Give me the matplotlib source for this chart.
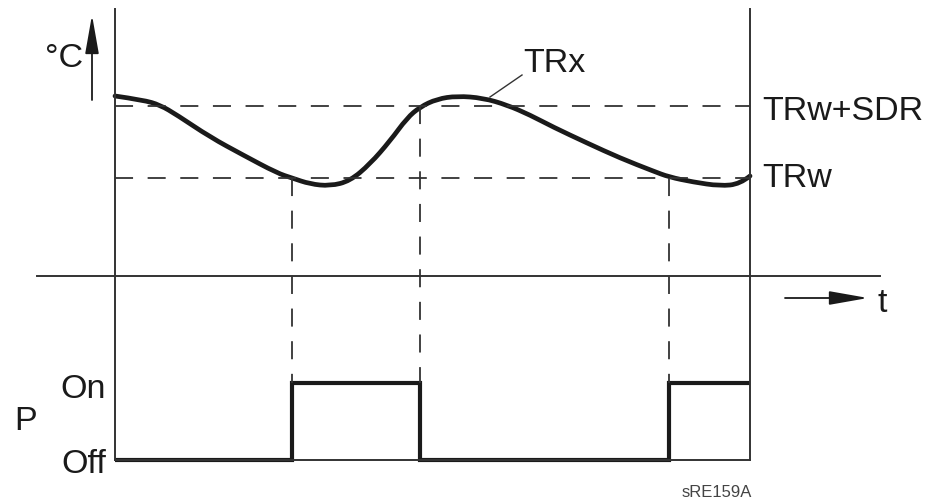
import matplotlib
matplotlib.use('Agg')
import matplotlib.pyplot as plt
from matplotlib.path import Path
from matplotlib.patches import PathPatch

plt.rcParams['font.family'] = ['Liberation Sans', 'DejaVu Sans']
plt.rcParams['lines.scale_dashes'] = False

# temperature curve TRx (x = time, y = screen height)
curve_x = [115, 143, 160, 177, 210, 243, 277, 292, 310, 330, 350, 370, 390, 407,
           420, 437, 457, 483, 507, 530, 553, 587, 620, 653, 669, 693, 720, 740, 750]
curve_y = [96, 100, 105, 115, 137, 155, 173, 178, 184, 186, 181, 164, 141, 118,
           107, 99, 96, 98, 105, 115, 127, 143, 158, 171, 177, 182, 186, 184, 176]

# thresholds
trw_sdr = 106
trw = 178

# switching instants and relay state P
switch_t = [115, 292, 420, 669, 750]
p_state = [0, 1, 0, 1]
off_y = 460
on_y = 383

t_start, t_end = 115, 750
top_y = 9
axis_y = 276

ink = '#1a1a1a'
grey = '#333333'

fig = plt.figure(figsize=(9.41, 4.99), dpi=100)
ax = fig.add_axes([0, 0, 1, 1])
ax.set_xlim(0, 941)
ax.set_ylim(499, 0)
ax.axis('off')

# frame lines
ax.plot([t_start, t_start], [top_y, off_y], color=grey, lw=1.4)
ax.plot([t_end, t_end], [top_y, off_y], color=grey, lw=1.4)
ax.plot([37, 880], [axis_y, axis_y], color=grey, lw=1.4)
ax.plot([t_start, t_end], [off_y, off_y], color=grey, lw=1.4)

# dashed threshold lines
dash = (0, (13, 10.5))
ax.plot([t_start, t_end], [trw_sdr, trw_sdr], color=grey, lw=1.3, ls=dash)
ax.plot([t_start, t_end], [trw, trw], color=grey, lw=1.3, ls=dash)

# dashed verticals at the switching instants
ax.plot([switch_t[1], switch_t[1]], [trw, on_y], color=grey, lw=1.3, ls=dash)
ax.plot([switch_t[2], switch_t[2]], [trw_sdr, on_y], color=grey, lw=1.3, ls=dash)
ax.plot([switch_t[3], switch_t[3]], [trw, on_y], color=grey, lw=1.3, ls=dash)

# TRx curve, drawn as a chain of quadratic beziers through the read points
pts = list(zip(curve_x, curve_y))
verts = [pts[0]]
codes = [Path.MOVETO]
for i in range(1, len(pts) - 1):
    nxt = ((pts[i][0] + pts[i + 1][0]) / 2, (pts[i][1] + pts[i + 1][1]) / 2)
    if i == len(pts) - 2:
        nxt = pts[-1]
    verts += [pts[i], nxt]
    codes += [Path.CURVE3, Path.CURVE3]
ax.add_patch(PathPatch(Path(verts, codes), facecolor='none', edgecolor=ink,
                       lw=3.4, capstyle='round', joinstyle='round'))

# P steps
levels = [off_y + s * (on_y - off_y) for s in p_state]
ax.stairs(levels, switch_t, baseline=None, color=ink, lw=3.0)

# arrows
arrow = dict(arrowstyle='-|>,head_length=1.7,head_width=0.3', color=ink, lw=1.3,
             mutation_scale=14, shrinkA=0, shrinkB=0)
ax.annotate('', xy=(92, 15), xytext=(92, 100), arrowprops=arrow)
ax.annotate('', xy=(868, 298), xytext=(785, 298), arrowprops=arrow)

# TRx leader
ax.plot([490, 522], [97, 75], color=grey, lw=1.0)

fs = 24.5
ax.text(45, 67, '°C', fontsize=fs, color=ink, va='baseline')
ax.text(523, 72, 'TRx', fontsize=fs, color=ink, va='baseline')
ax.text(762, 120, 'TRw+SDR', fontsize=fs, color=ink, va='baseline')
ax.text(762, 187, 'TRw', fontsize=fs, color=ink, va='baseline')
ax.text(878, 312, 't', fontsize=fs, color=ink, va='baseline')
ax.text(14, 430, 'P', fontsize=fs, color=ink, va='baseline')
ax.text(106, 398, 'On', fontsize=fs, color=ink, va='baseline', ha='right')
ax.text(106, 473, 'Off', fontsize=fs, color=ink, va='baseline', ha='right')
ax.text(752, 497, 'sRE159A', fontsize=12, color='#444444', va='baseline', ha='right')

fig.savefig('out.png', dpi=100)
